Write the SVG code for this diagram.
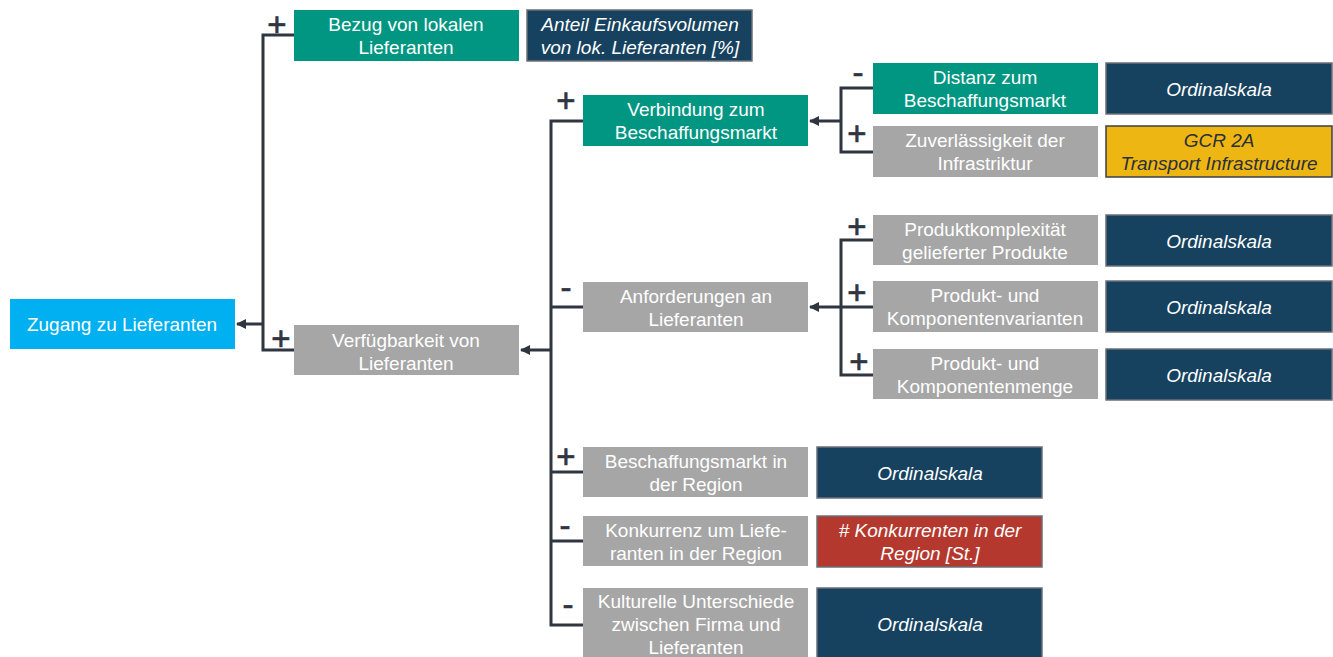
<svg xmlns="http://www.w3.org/2000/svg" width="1333" height="657" viewBox="0 0 1333 657">
  <defs>
    <marker id="arrow" viewBox="0 0 10 10" refX="9" refY="5" markerWidth="10" markerHeight="10" markerUnits="userSpaceOnUse" orient="auto">
      <path d="M0,0 L10,5 L0,10 Z" fill="#2F3640"/>
    </marker>
    <style>
      .teal { fill: #009681; }
      .gray { fill: #A6A6A6; }
      .root { fill: #00B0F0; }
      .kpi { fill: #16425F; stroke: #6B6F78; stroke-width: 1.5; }
      .kpi-red { fill: #B5382E; stroke: #6B6F78; stroke-width: 1.5; }
      .kpi-yellow { fill: #EDB612; stroke: #3A3F4A; stroke-width: 1.5; }
      .lbl { font-family: "Liberation Sans", Arial, sans-serif; font-size: 19px; fill: #FFFFFF; text-anchor: middle; }
      .it { font-family: "Liberation Sans", Arial, sans-serif; font-size: 19px; font-style: italic; fill: #FFFFFF; text-anchor: middle; }
      .it-dark { fill: #2B2F3A; }
      .sign { font-family: "Liberation Sans", Arial, sans-serif; font-size: 33px; fill: #2F3640; stroke: #2F3640; stroke-width: 0.7; text-anchor: middle; }
      .wire { fill: none; stroke: #2F3640; stroke-width: 3; }
      .arr { fill: none; stroke: #2F3640; stroke-width: 3; marker-end: url(#arrow); }
    </style>
  </defs>
  <rect width="1333" height="657" fill="#FFFFFF"/>

  <!-- connectors -->
  <g id="connectors">
    <!-- root bracket -->
    <path class="wire" d="M294,35 H263 V350 H294"/>
    <path class="arr" d="M263,324 H237"/>
    <!-- availability bracket -->
    <path class="wire" d="M583,121 H551 V625 H583"/>
    <path class="wire" d="M551,307 H583"/>
    <path class="wire" d="M551,472 H583"/>
    <path class="wire" d="M551,541 H583"/>
    <path class="arr" d="M551,350 H521"/>
    <!-- market connection bracket -->
    <path class="wire" d="M873,88 H841 V152 H873"/>
    <path class="arr" d="M841,121 H810"/>
    <!-- requirements bracket -->
    <path class="wire" d="M873,240 H841 V375 H873"/>
    <path class="wire" d="M841,307 H873"/>
    <path class="arr" d="M841,307 H810"/>
  </g>

  <!-- polarity signs -->
  <g id="signs">
    <text class="sign" x="277" y="36">+</text>
    <text class="sign" x="281" y="350">+</text>
    <text class="sign" x="566" y="112">+</text>
    <text class="sign" x="566" y="299">-</text>
    <text class="sign" x="566" y="468">+</text>
    <text class="sign" x="565" y="537">-</text>
    <text class="sign" x="568" y="616">-</text>
    <text class="sign" x="858" y="84">-</text>
    <text class="sign" x="857" y="145">+</text>
    <text class="sign" x="857" y="238">+</text>
    <text class="sign" x="857" y="304">+</text>
    <text class="sign" x="859" y="373">+</text>
  </g>

  <g id="n-root">
    <rect class="root" x="10" y="299" width="225" height="50"/>
    <text class="lbl" x="122" y="331">Zugang zu Lieferanten</text>
  </g>

  <g id="n-bezug">
    <rect class="teal" x="294" y="10" width="225" height="51"/>
    <text class="lbl" x="406" y="31">Bezug von lokalen</text>
    <text class="lbl" x="406" y="54">Lieferanten</text>
  </g>
  <g id="k-bezug">
    <rect class="kpi" x="527" y="10" width="225" height="51"/>
    <text class="it" x="640" y="31">Anteil Einkaufsvolumen</text>
    <text class="it" x="640" y="54">von lok. Lieferanten [%]</text>
  </g>

  <g id="n-verfuegbarkeit">
    <rect class="gray" x="294" y="325" width="225" height="50"/>
    <text class="lbl" x="406" y="347">Verfügbarkeit von</text>
    <text class="lbl" x="406" y="370">Lieferanten</text>
  </g>

  <g id="n-verbindung">
    <rect class="teal" x="583" y="95" width="225" height="51"/>
    <text class="lbl" x="696" y="116">Verbindung zum</text>
    <text class="lbl" x="696" y="139">Beschaffungsmarkt</text>
  </g>

  <g id="n-distanz">
    <rect class="teal" x="873" y="63" width="225" height="51"/>
    <text class="lbl" x="985" y="84">Distanz zum</text>
    <text class="lbl" x="985" y="107">Beschaffungsmarkt</text>
  </g>
  <g id="k-distanz">
    <rect class="kpi" x="1106" y="63" width="226" height="51"/>
    <text class="it" x="1219" y="96">Ordinalskala</text>
  </g>

  <g id="n-zuverlaessigkeit">
    <rect class="gray" x="873" y="126" width="225" height="51"/>
    <text class="lbl" x="985" y="147">Zuverlässigkeit der</text>
    <text class="lbl" x="985" y="170">Infrastriktur</text>
  </g>
  <g id="k-zuverlaessigkeit">
    <rect class="kpi-yellow" x="1106" y="126" width="226" height="51"/>
    <text class="it it-dark" x="1219" y="147">GCR 2A</text>
    <text class="it it-dark" x="1219" y="170">Transport Infrastructure</text>
  </g>

  <g id="n-anforderungen">
    <rect class="gray" x="583" y="282" width="225" height="50"/>
    <text class="lbl" x="696" y="303">Anforderungen an</text>
    <text class="lbl" x="696" y="326">Lieferanten</text>
  </g>

  <g id="n-komplexitaet">
    <rect class="gray" x="873" y="215" width="225" height="50"/>
    <text class="lbl" x="985" y="236">Produktkomplexität</text>
    <text class="lbl" x="985" y="259">gelieferter Produkte</text>
  </g>
  <g id="k-komplexitaet">
    <rect class="kpi" x="1106" y="215" width="226" height="51"/>
    <text class="it" x="1219" y="248">Ordinalskala</text>
  </g>

  <g id="n-varianten">
    <rect class="gray" x="873" y="281" width="225" height="51"/>
    <text class="lbl" x="985" y="302">Produkt- und</text>
    <text class="lbl" x="985" y="325">Komponentenvarianten</text>
  </g>
  <g id="k-varianten">
    <rect class="kpi" x="1106" y="281" width="226" height="51"/>
    <text class="it" x="1219" y="314">Ordinalskala</text>
  </g>

  <g id="n-menge">
    <rect class="gray" x="873" y="349" width="225" height="50"/>
    <text class="lbl" x="985" y="370">Produkt- und</text>
    <text class="lbl" x="985" y="393">Komponentenmenge</text>
  </g>
  <g id="k-menge">
    <rect class="kpi" x="1106" y="349" width="226" height="51"/>
    <text class="it" x="1219" y="382">Ordinalskala</text>
  </g>

  <g id="n-markt-region">
    <rect class="gray" x="583" y="447" width="225" height="50"/>
    <text class="lbl" x="696" y="468">Beschaffungsmarkt in</text>
    <text class="lbl" x="696" y="491">der Region</text>
  </g>
  <g id="k-markt-region">
    <rect class="kpi" x="817" y="447" width="225" height="51"/>
    <text class="it" x="930" y="480">Ordinalskala</text>
  </g>

  <g id="n-konkurrenz">
    <rect class="gray" x="583" y="516" width="225" height="50"/>
    <text class="lbl" x="696" y="537">Konkurrenz um Liefe-</text>
    <text class="lbl" x="696" y="560">ranten in der Region</text>
  </g>
  <g id="k-konkurrenz">
    <rect class="kpi-red" x="817" y="516" width="225" height="51"/>
    <text class="it" x="930" y="537"># Konkurrenten in der</text>
    <text class="it" x="930" y="560">Region [St.]</text>
  </g>

  <g id="n-kultur">
    <rect class="gray" x="583" y="588" width="225" height="70"/>
    <text class="lbl" x="696" y="608">Kulturelle Unterschiede</text>
    <text class="lbl" x="696" y="631">zwischen Firma und</text>
    <text class="lbl" x="696" y="654">Lieferanten</text>
  </g>
  <g id="k-kultur">
    <rect class="kpi" x="817" y="588" width="225" height="70"/>
    <text class="it" x="930" y="631">Ordinalskala</text>
  </g>
</svg>
